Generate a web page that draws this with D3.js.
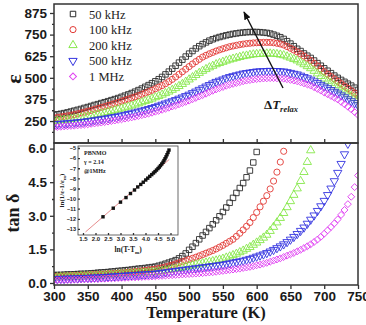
<!DOCTYPE html>
<html>
<head>
<meta charset="utf-8">
<script src="https://cdn.jsdelivr.net/npm/d3@7"></script>
<style>
  html, body { margin: 0; padding: 0; background: #fff; }
  svg { display: block; font-family: "Liberation Serif", "Times New Roman", serif; }
</style>
</head>
<body>
<svg id="chart" width="366" height="325"></svg>
<script>
// temperature grid (K), 5 K steps
const TEMPS = d3.range(300, 751, 5);

// permittivity
const eps50k = [285,289,292,296,300,305,310,315,320,326,331,337,343,348,354,359,365,371,377,383,
  390,397,404,412,420,429,438,448,458,469,480,492,505,520,536,553,570,588,605,623,
  640,655,670,683,695,705,715,723,730,736,741,746,750,754,757,760,762,764,765,765,
  765,764,762,760,756,750,743,735,725,712,698,683,668,655,641,628,615,600,585,570,
  555,541,527,513,500,488,477,466,455,443,430];
const eps100k = [268,271,274,277,280,284,288,292,297,302,307,312,318,323,329,334,340,346,352,358,
  365,371,377,384,390,397,405,412,420,428,437,446,455,466,478,491,505,520,535,550,
  565,580,594,607,620,630,639,647,655,662,668,674,680,684,688,692,695,698,700,702,
  703,704,705,705,705,703,700,696,690,681,671,661,650,638,626,613,600,584,568,551,
  535,521,507,494,480,466,452,439,425,412,398];
const eps200k = [250,252,254,256,258,261,264,267,270,274,277,281,285,289,293,298,302,307,312,317,
  322,328,333,339,345,352,358,365,372,379,387,394,402,411,420,430,440,452,464,477,
  490,503,516,528,540,550,560,569,578,585,592,599,605,610,615,620,625,628,632,635,
  637,638,639,640,640,639,637,634,630,623,616,608,600,589,578,567,555,540,525,510,
  495,482,470,457,445,432,420,407,395,383,370];
const eps500k = [232,233,235,236,238,240,241,243,245,247,250,252,255,258,261,264,267,271,274,278,
  282,286,291,295,300,305,310,315,320,326,332,339,345,352,358,365,372,380,387,395,
  403,412,421,431,440,450,459,468,477,484,491,498,505,510,515,520,525,528,531,534,
  537,538,539,540,541,540,540,538,537,533,529,524,520,513,505,498,490,480,470,460,
  450,440,430,420,410,399,388,376,365,354,342];
const eps1M = [215,216,217,219,220,222,223,225,227,229,231,234,236,239,241,244,247,250,253,257,
  260,264,267,271,275,279,284,288,293,298,304,309,315,321,327,334,340,347,354,361,
  368,376,384,392,400,408,417,425,433,440,447,454,460,465,470,475,480,484,487,490,
  493,495,496,497,498,498,497,496,495,492,488,484,480,474,468,462,455,446,436,426,
  415,405,395,385,375,361,347,333,318,302,285];

// loss tangent (series stop where they leave the frame)
const tan50k = [.35,.36,.36,.37,.38,.38,.39,.40,.41,.41,.42,.43,.44,.46,.47,.48,.49,.51,.52,.54,
  .55,.57,.58,.60,.62,.64,.65,.67,.69,.71,.73,.77,.81,.86,.91,.96,1.02,1.10,1.20,1.32,
  1.48,1.62,1.78,1.95,2.12,2.28,2.45,2.62,2.80,2.98,3.17,3.37,3.58,3.80,4.02,4.24,4.46,4.72,5.02,5.38,
  5.85,6.35];
const tan100k = [.30,.30,.31,.31,.32,.33,.33,.34,.35,.35,.36,.37,.38,.38,.39,.40,.41,.42,.43,.44,
  .45,.46,.48,.49,.51,.52,.54,.56,.58,.60,.62,.65,.68,.72,.76,.80,.85,.90,.95,1.00,
  1.05,1.10,1.15,1.21,1.27,1.33,1.39,1.45,1.52,1.60,1.68,1.77,1.86,1.95,2.08,2.22,2.37,2.53,2.70,2.92,
  3.15,3.40,3.65,3.90,4.20,4.55,4.95,5.40,5.88,6.40];
const tan200k = [.25,.25,.26,.26,.27,.27,.28,.28,.29,.30,.30,.31,.32,.32,.33,.34,.35,.36,.37,.38,
  .39,.40,.41,.42,.43,.44,.45,.46,.47,.48,.49,.51,.53,.56,.58,.61,.64,.67,.70,.73,
  .76,.79,.82,.85,.88,.91,.94,.97,1.00,1.04,1.08,1.13,1.18,1.24,1.30,1.37,1.44,1.52,1.60,1.70,
  1.80,1.91,2.02,2.15,2.32,2.50,2.70,2.90,3.12,3.38,3.65,3.93,4.22,4.55,4.95,5.40,5.92,6.45];
const tan500k = [.18,.18,.19,.19,.20,.20,.21,.21,.22,.23,.23,.24,.25,.25,.26,.27,.28,.29,.30,.31,
  .32,.33,.34,.35,.36,.37,.38,.39,.40,.41,.42,.44,.46,.48,.50,.52,.54,.56,.58,.60,
  .62,.64,.66,.68,.70,.72,.74,.76,.78,.80,.82,.85,.88,.91,.94,.97,1.00,1.04,1.08,1.13,
  1.18,1.23,1.28,1.34,1.41,1.48,1.56,1.64,1.73,1.83,1.94,2.06,2.19,2.33,2.48,2.65,2.83,3.02,3.22,3.43,
  3.67,3.93,4.22,4.55,4.92,5.32,5.75,6.22];
const tan1M = [.12,.12,.13,.13,.14,.14,.15,.15,.16,.16,.17,.17,.18,.18,.19,.19,.20,.21,.21,.22,
  .23,.23,.24,.25,.25,.26,.27,.28,.28,.29,.30,.31,.32,.33,.34,.35,.36,.37,.38,.39,
  .40,.41,.42,.43,.44,.46,.47,.48,.50,.52,.54,.56,.58,.60,.62,.64,.67,.69,.72,.75,
  .79,.82,.86,.90,.95,1.00,1.05,1.10,1.16,1.22,1.28,1.34,1.41,1.48,1.56,1.64,1.73,1.83,1.94,2.06,
  2.20,2.35,2.50,2.66,2.84,3.04,3.26,3.52,3.85,4.28,4.80];

// inset: modified Curie-Weiss fit at 1 MHz
const insetX = [2.30,2.71,3.00,3.22,3.40,3.56,3.69,3.81,3.91,4.01,4.09,4.17,4.25,4.32,4.38,4.44,
  4.50,4.55,4.60,4.65,4.70,4.74,4.78,4.82,4.86,4.90,4.94];
const insetY = [-11.80,-10.95,-10.35,-9.90,-9.50,-9.15,-8.85,-8.60,-8.38,-8.16,-7.98,-7.80,-7.63,-7.47,-7.33,-7.18,
  -7.03,-6.89,-6.74,-6.58,-6.41,-6.24,-6.06,-5.87,-5.66,-5.44,-5.20];
const fitX = [1.6, 4.95];
const fitY = [-13.3, -6.13];

const LABELS = ["50 kHz", "100 kHz", "200 kHz", "500 kHz", "1 MHz"];
const COLORS = ["#2b2b2b", "#e23a36", "#86e84a", "#3434e0", "#e040f2"];
const EPS = [eps50k, eps100k, eps200k, eps500k, eps1M];
const TAN = [tan50k, tan100k, tan200k, tan500k, tan1M];

const svg = d3.select("#chart");
const L = 54, R = 358, TOP = 4, MID = 143, BOT = 285;
const AX = "#333";

const x = d3.scaleLinear().domain([300, 750]).range([L, R]);
const yE = d3.scaleLinear().domain([123, 927]).range([MID, TOP]);
const yD = d3.scaleLinear().domain([-0.09, 6.25]).range([BOT, MID]);

// marker shapes per series
const SHAPES = [
  { type: d3.symbolSquare, size: 30, rot: 0 },
  { type: d3.symbolCircle, size: 30, rot: 0 },
  { type: d3.symbolTriangle, size: 30, rot: 0 },
  { type: d3.symbolTriangle, size: 30, rot: 180 },
  { type: d3.symbolSquare, size: 24, rot: 45 }
];
const symPath = SHAPES.map(s => d3.symbol().type(s.type).size(s.size)());

const defs = svg.append("defs");
defs.append("clipPath").attr("id", "clipTop")
  .append("rect").attr("x", L).attr("y", TOP).attr("width", R - L).attr("height", MID - TOP);
defs.append("clipPath").attr("id", "clipBot")
  .append("rect").attr("x", L).attr("y", MID).attr("width", R - L).attr("height", BOT - MID);

function drawSeries(arrs, yScale, clipId) {
  const g = svg.append("g").attr("clip-path", `url(#${clipId})`);
  arrs.forEach((vals, k) => {
    const pts = vals.map((v, i) => [TEMPS[i], v]);
    g.append("g").selectAll("path")
      .data(pts)
      .join("path")
        .attr("d", symPath[k])
        .attr("transform", d => `translate(${x(d[0])},${yScale(d[1])}) rotate(${SHAPES[k].rot})`)
        .attr("fill", "none")
        .attr("stroke", COLORS[k])
        .attr("stroke-width", 0.9);
  });
}

drawSeries(EPS, yE, "clipTop");
drawSeries(TAN, yD, "clipBot");

function styleAxis(g, fontSize) {
  g.select(".domain").remove();
  g.selectAll(".tick line").attr("stroke", AX).attr("stroke-width", 1.3);
  g.selectAll(".tick text")
    .attr("fill", "#1a1a1a")
    .attr("font-weight", "bold")
    .attr("font-size", fontSize + "px");
}

// upper panel y axis
const epsTicks = [250, 375, 500, 625, 750, 875];
svg.append("g").attr("transform", `translate(${L},0)`)
  .call(d3.axisLeft(yE).tickValues(epsTicks).tickSize(4).tickPadding(3).tickFormat(d3.format("d")))
  .call(g => styleAxis(g, 13.5));
svg.append("g").attr("transform", `translate(${L},0)`)
  .call(d3.axisLeft(yE).tickValues([187.5, 312.5, 437.5, 562.5, 687.5, 812.5]).tickSize(2).tickFormat(""))
  .call(g => styleAxis(g, 13.5));

// lower panel y axis
const tanTicks = [0, 1.5, 3, 4.5, 6];
svg.append("g").attr("transform", `translate(${L},0)`)
  .call(d3.axisLeft(yD).tickValues(tanTicks).tickSize(4).tickPadding(3).tickFormat(d3.format(".1f")))
  .call(g => styleAxis(g, 13.5));
svg.append("g").attr("transform", `translate(${L},0)`)
  .call(d3.axisLeft(yD).tickValues([0.75, 2.25, 3.75, 5.25]).tickSize(2).tickFormat(""))
  .call(g => styleAxis(g, 13.5));

// x axes
const tTicks = d3.range(300, 751, 50);
svg.append("g").attr("transform", `translate(0,${BOT})`)
  .call(d3.axisBottom(x).tickValues(tTicks).tickSize(4).tickPadding(2).tickFormat(d3.format("d")))
  .call(g => styleAxis(g, 13.5));
svg.append("g").attr("transform", `translate(0,${MID})`)
  .call(d3.axisBottom(x).tickValues(tTicks.slice(1, -1)).tickSize(-4).tickFormat(""))
  .call(g => styleAxis(g, 13.5));

// frames
[[TOP, MID], [MID, BOT]].forEach(([a, b]) => {
  svg.append("rect").attr("x", L).attr("y", a).attr("width", R - L).attr("height", b - a)
    .attr("fill", "none").attr("stroke", AX).attr("stroke-width", 1.5);
});

// axis titles
svg.append("text").attr("transform", "translate(21,79) rotate(-90)")
  .attr("text-anchor", "middle").attr("font-weight", "bold").attr("font-size", "22px")
  .attr("fill", "#1a1a1a").text("ε");
svg.append("text").attr("transform", "translate(19,213) rotate(-90)")
  .attr("text-anchor", "middle").attr("font-weight", "bold").attr("font-size", "18px")
  .attr("fill", "#1a1a1a").text("tan δ");
svg.append("text").attr("x", (L + R) / 2).attr("y", 318)
  .attr("text-anchor", "middle").attr("font-weight", "bold").attr("font-size", "16.5px")
  .attr("fill", "#1a1a1a").text("Temperature (K)");

// legend
const leg = svg.append("g");
LABELS.forEach((name, k) => {
  const ly = 14 + k * 15.6;
  leg.append("path").attr("d", symPath[k])
    .attr("transform", `translate(73,${ly}) rotate(${SHAPES[k].rot})`)
    .attr("fill", "none").attr("stroke", COLORS[k]).attr("stroke-width", 1);
  leg.append("text").attr("x", 89).attr("y", ly + 4.5)
    .attr("font-size", "12.5px").attr("fill", "#222").text(name);
});

// arrow with label
svg.append("defs").append("marker").attr("id", "ah")
  .attr("viewBox", "0 0 10 10").attr("refX", 9).attr("refY", 5)
  .attr("markerWidth", 6).attr("markerHeight", 6).attr("orient", "auto")
  .append("path").attr("d", "M0,1 L10,5 L0,9 Z").attr("fill", "#111");
svg.append("line").attr("x1", 283).attr("y1", 88).attr("x2", 244).attr("y2", 12)
  .attr("stroke", "#111").attr("stroke-width", 1.4).attr("marker-end", "url(#ah)");
const lab = svg.append("text").attr("x", 264).attr("y", 109)
  .attr("font-size", "13px").attr("font-weight", "bold").attr("fill", "#1a1a1a");
lab.append("tspan").text("Δ");
lab.append("tspan").attr("font-style", "italic").text("T");
lab.append("tspan").attr("font-style", "italic").attr("font-size", "8.5px").attr("dy", 3).text("relax");

// inset
const IL = 78, IR = 178, IT = 146, IB = 235;
const xi = d3.scaleLinear().domain([1.3, 5.3]).range([IL, IR]);
const yi = d3.scaleLinear().domain([-13.6, -4.8]).range([IB, IT]);
const ins = svg.append("g");
ins.append("rect").attr("x", IL).attr("y", IT).attr("width", IR - IL).attr("height", IB - IT)
  .attr("fill", "#fff").attr("stroke", "#444").attr("stroke-width", 0.8);
ins.append("g").attr("transform", `translate(${IL},0)`)
  .call(d3.axisLeft(yi).tickValues(d3.range(-13, -4, 1)).tickSize(-2).tickPadding(2).tickFormat(d3.format("d")))
  .call(g => styleAxis(g, 5.5));
ins.append("g").attr("transform", `translate(0,${IB})`)
  .call(d3.axisBottom(xi).tickValues(d3.range(1.5, 5.01, 0.5)).tickSize(-2).tickPadding(2).tickFormat(d3.format(".1f")))
  .call(g => styleAxis(g, 6));
ins.append("path")
  .attr("d", d3.line().x((d, i) => xi(fitX[i])).y((d, i) => yi(fitY[i]))(fitX))
  .attr("stroke", "#e07070").attr("stroke-width", 0.8).attr("fill", "none");
ins.append("g").selectAll("rect")
  .data(insetX.map((v, i) => [v, insetY[i]]))
  .join("rect")
    .attr("x", d => xi(d[0]) - 1.7).attr("y", d => yi(d[1]) - 1.7)
    .attr("width", 3.4).attr("height", 3.4).attr("fill", "#111");
[["PBNMO", 155], ["γ = 2.14", 164], ["@1MHz", 173]].forEach(([t, yy]) => {
  ins.append("text").attr("x", 84).attr("y", yy).attr("font-size", "6px")
    .attr("font-weight", "bold").attr("fill", "#222").text(t);
});
const xt = ins.append("text").attr("x", (IL + IR) / 2).attr("y", 252)
  .attr("text-anchor", "middle").attr("font-size", "7.5px").attr("font-weight", "bold").attr("fill", "#222");
xt.append("tspan").text("ln(T-T");
xt.append("tspan").attr("font-size", "5px").attr("dy", 2).text("m");
xt.append("tspan").attr("dy", -2).text(")");
const yt = ins.append("text").attr("transform", `translate(64,${(IT + IB) / 2}) rotate(-90)`)
  .attr("text-anchor", "middle").attr("font-size", "7px").attr("font-weight", "bold").attr("fill", "#222");
yt.append("tspan").text("ln(1/ε-1/ε");
yt.append("tspan").attr("font-size", "5px").attr("dy", 2).text("m");
yt.append("tspan").attr("dy", -2).text(")");
</script>
</body>
</html>
